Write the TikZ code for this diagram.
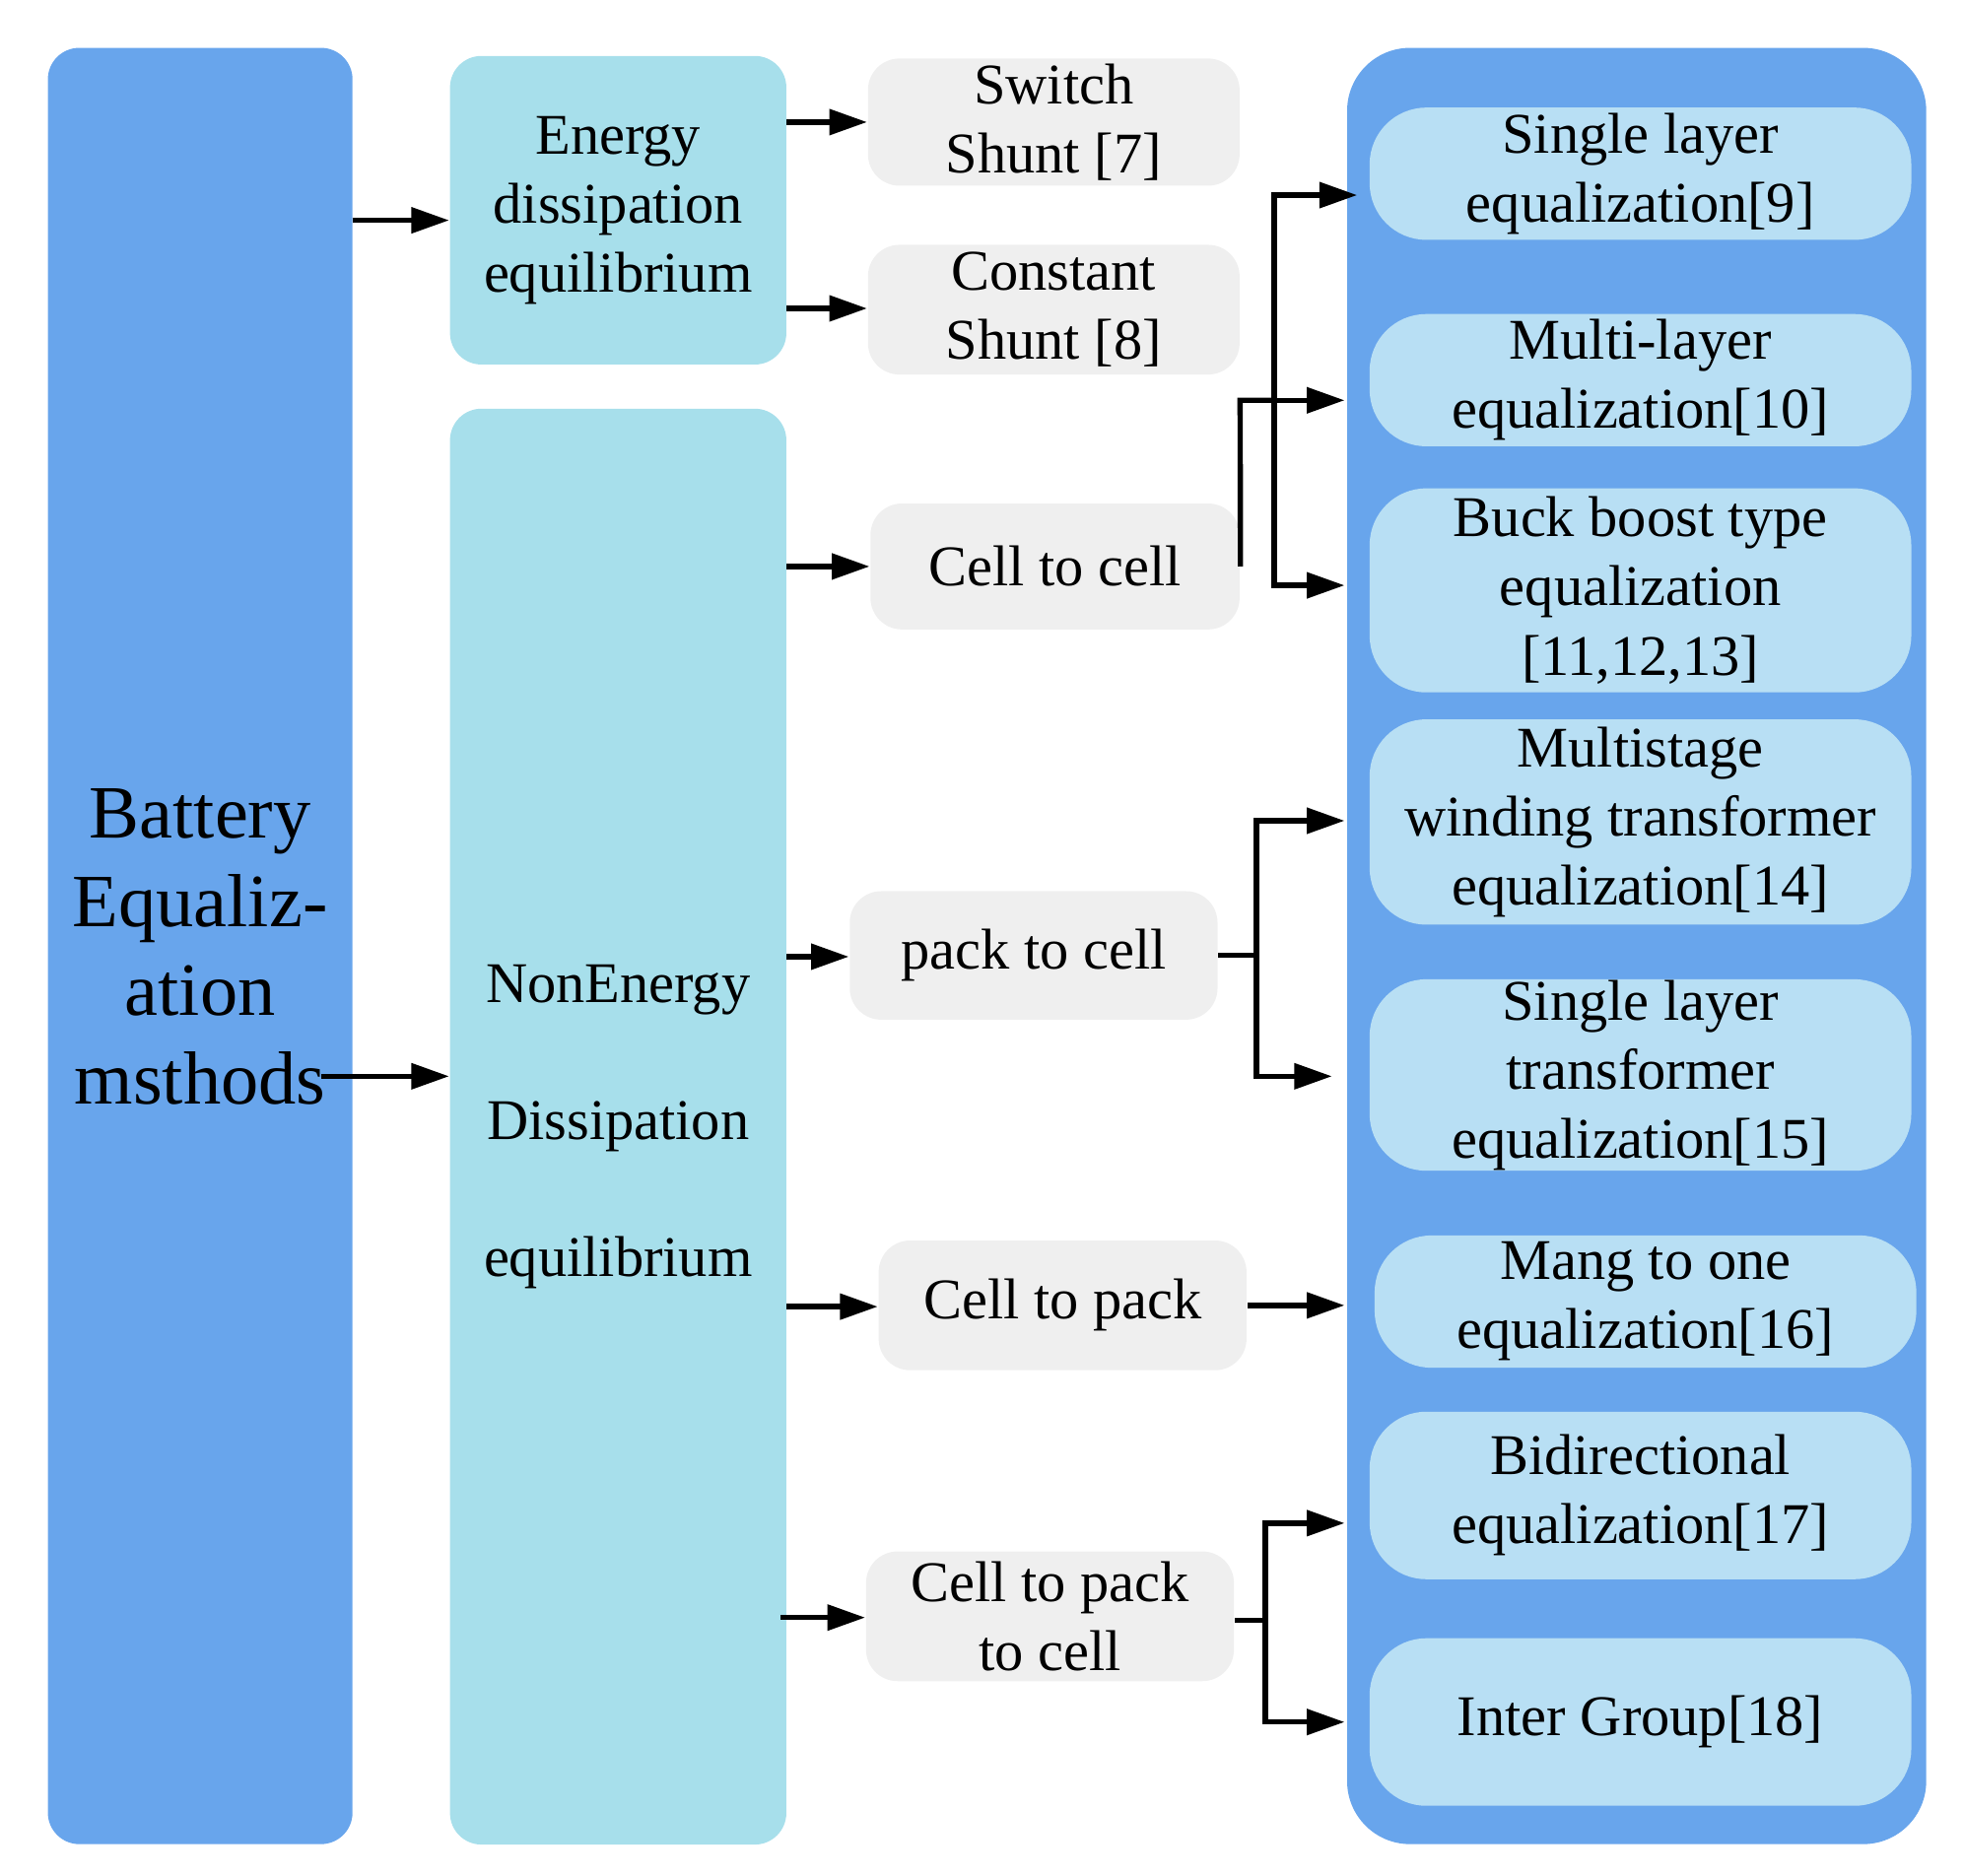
\documentclass[tikz,border=0pt]{standalone}
\usepackage{fontspec}
\setmainfont{Liberation Serif}
\usetikzlibrary{arrows.meta}
\definecolor{dblue}{HTML}{68A5EC}
\definecolor{cyanb}{HTML}{A7DFEB}
\definecolor{lblue}{HTML}{B8DFF4}
\definecolor{grayb}{HTML}{EFEFEF}
\begin{document}
\begin{tikzpicture}[x=0.01cm,y=-0.01cm,
  box/.style={draw=none,rounded corners=0.25cm,align=center,inner sep=0pt,font=\fontsize{13}{15.6}\selectfont},
  big/.style={box,fill=dblue},
  cy/.style={box,fill=cyanb},
  gr/.style={box,fill=grayb},
  lb/.style={box,fill=lblue,rounded corners=0.45cm},
  arr/.style={line width=1.2pt,-{Triangle[length=0.3cm,width=0.2cm]}},
  ln/.style={line width=1.2pt}]
\useasboundingbox (0,0) rectangle (1560,1490);
\path[fill=dblue,rounded corners=0.25cm] (38,38) rectangle (280,1465);
\node[box,font=\fontsize{17}{20}\selectfont] (bat) at (159,752) {Battery\\Equaliz-\\ation\\msthods};
\path[fill=dblue,rounded corners=0.5cm] (1070,38) rectangle (1530,1465);
\node[cy,minimum width=2.67cm,minimum height=2.45cm] (ed) at (491,167) {Energy\\dissipation\\equilibrium};
\node[cy,minimum width=2.67cm,minimum height=11.4cm,font=\fontsize{13}{31}\selectfont] (ned) at (491,895) {NonEnergy\\Dissipation\\equilibrium};
\node[gr,minimum width=2.95cm,minimum height=1.01cm] (ss) at (837,97) {Switch\\Shunt [7]};
\node[gr,minimum width=2.95cm,minimum height=1.03cm] (cs) at (837,246) {Constant\\Shunt [8]};
\node[gr,minimum width=2.93cm,minimum height=1.0cm] (ctc) at (838,450) {Cell to cell};
\node[gr,minimum width=2.92cm,minimum height=1.02cm] (ptc) at (821,759) {pack to cell};
\node[gr,minimum width=2.92cm,minimum height=1.03cm] (ctp) at (844,1037) {Cell to pack};
\node[gr,minimum width=2.92cm,minimum height=1.03cm] (cpc) at (834,1284) {Cell to pack\\to cell};
\node[lb,minimum width=4.3cm,minimum height=1.05cm] (r1) at (1303,138) {Single layer\\equalization[9]};
\node[lb,minimum width=4.3cm,minimum height=1.05cm] (r2) at (1303,302) {Multi-layer\\equalization[10]};
\node[lb,minimum width=4.3cm,minimum height=1.62cm] (r3) at (1303,469) {Buck boost type\\equalization\\{[11,12,13]}};
\node[lb,minimum width=4.3cm,minimum height=1.63cm] (r4) at (1303,653) {Multistage\\winding transformer\\equalization[14]};
\node[lb,minimum width=4.3cm,minimum height=1.52cm] (r5) at (1303,854) {Single layer\\transformer\\equalization[15]};
\node[lb,minimum width=4.3cm,minimum height=1.05cm] (r6) at (1307,1034) {Mang to one\\equalization[16]};
\node[lb,minimum width=4.3cm,minimum height=1.33cm] (r7) at (1303,1188) {Bidirectional\\equalization[17]};
\node[lb,minimum width=4.3cm,minimum height=1.33cm] (r8) at (1303,1368) {Inter Group[18]};
\coordinate (b1) at (280,175);
\coordinate (b2) at (255,855);
\draw[arr] (b1) -- (ed.west |- b1);
\draw[arr] (b2) -- (ned.west |- b2);
\draw[arr] (625,97) -- (ss.west |- 0,97);
\draw[arr] (625,245) -- (cs.west |- 0,245);
\draw[arr] (625,450) -- (ctc.west);
\draw[arr] (625,760) -- (ptc.west |- 0,760);
\draw[arr] (625,1038) -- (ctp.west |- 0,1038);
\draw[arr] (620,1285) -- (cpc.west |- 0,1285);
\coordinate (j1) at (1012,318);
\draw[ln] (ctc.east) -- (985,318) -- (j1);
\draw[arr] (j1) -- (1068,318);
\draw[arr] (j1) |- (1078,155);
\draw[arr] (j1) |- (1068,465);
\coordinate (j2) at (998,759);
\draw[ln] (ptc.east) -- (j2);
\draw[arr] (j2) |- (1068,652);
\draw[arr] (j2) |- (1058,855);
\draw[arr] (ctp.east) -- (1068,1037);
\coordinate (j3) at (1005,1287);
\draw[ln] (cpc.east |- j3) -- (j3);
\draw[arr] (j3) |- (1068,1210);
\draw[arr] (j3) |- (1068,1368);
\end{tikzpicture}
\end{document}
